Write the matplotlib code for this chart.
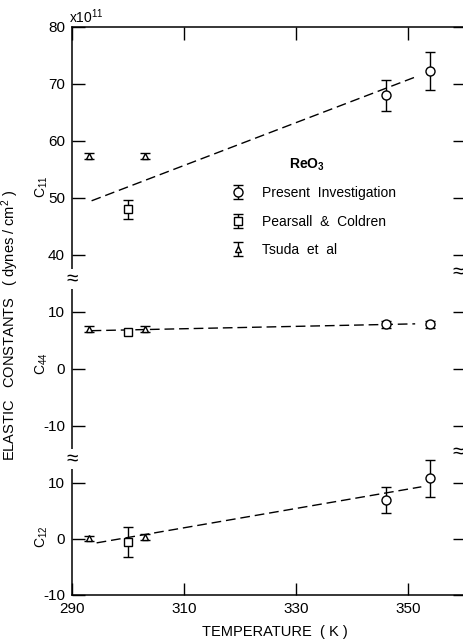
import matplotlib
matplotlib.use("Agg")
import matplotlib.pyplot as plt
import numpy as np

plt.rcParams['font.family'] = ['Liberation Sans', 'DejaVu Sans']
plt.rcParams['mathtext.default'] = 'regular'
plt.rcParams['axes.unicode_minus'] = False

# temperatures (K)
t_present = [346, 354]
t_pearsall = [300]
t_tsuda = [293, 303]

# C11 (x10^11 dynes/cm^2)
c11_present = [68.0, 72.3]
c11_present_err = [2.7, 3.4]
c11_pearsall = [48.0]
c11_pearsall_err = [1.7]
c11_tsuda = [57.4, 57.3]
c11_tsuda_err = [0.5, 0.5]
c11_fit_t = [293.5, 351.8]
c11_fit = [49.5, 71.4]

# C44
c44_present = [7.8, 7.8]
c44_present_err = [0.6, 0.6]
c44_pearsall = [6.4]
c44_tsuda = [7.0, 7.0]
c44_tsuda_err = [0.5, 0.5]
c44_fit_t = [293.5, 351.3]
c44_fit = [6.7, 7.9]

# C12
c12_present = [7.0, 10.8]
c12_present_err = [2.3, 3.3]
c12_pearsall = [-0.5]
c12_pearsall_err = [2.7]
c12_tsuda = [0.1, 0.4]
c12_tsuda_err = [0.5, 0.5]
c12_fit_t = [294.4, 352.4]
c12_fit = [-0.7, 9.3]

W, H = 463, 641
fig = plt.figure(figsize=(W / 100, H / 100), dpi=100)

def px_axes(top, bottom):
    return [72 / W, 1 - bottom / H, (465 - 72) / W, (bottom - top) / H]

ax1 = fig.add_axes(px_axes(27, 276))
ax2 = fig.add_axes(px_axes(276, 456))
ax3 = fig.add_axes(px_axes(456, 595))
axes = [ax1, ax2, ax3]

ax1.set_ylim(36.3, 80)
ax2.set_ylim(-15.3, 16.3)
ax3.set_ylim(-10, 14.8)
ax1.set_yticks([40, 50, 60, 70, 80])
ax2.set_yticks([-10, 0, 10])
ax3.set_yticks([-10, 0, 10])

for ax in axes:
    ax.set_xlim(290, 360.2)
    ax.set_xticks([290, 310, 330, 350])
    ax.tick_params(direction='in', length=9, width=1, left=True, right=True,
                   top=False, bottom=False, labelbottom=False, labelsize=11,
                   pad=5)
    for s in ax.spines.values():
        s.set_linewidth(1.1)
    ax.spines['top'].set_visible(False)
    ax.spines['bottom'].set_visible(False)

ax1.spines['top'].set_visible(True)
ax1.tick_params(top=True)
ax3.spines['bottom'].set_visible(True)
ax3.tick_params(bottom=True, labelbottom=True)

eb = dict(capsize=3.5, elinewidth=1, capthick=1, color='black', mfc='white',
          mec='black', mew=1, linestyle='none')
dash = dict(color='black', lw=1, linestyle=(0, (7, 3.5)))

data = [
    (ax1, c11_present, c11_present_err, c11_pearsall, c11_pearsall_err,
     c11_tsuda, c11_tsuda_err, c11_fit_t, c11_fit),
    (ax2, c44_present, c44_present_err, c44_pearsall, None,
     c44_tsuda, c44_tsuda_err, c44_fit_t, c44_fit),
    (ax3, c12_present, c12_present_err, c12_pearsall, c12_pearsall_err,
     c12_tsuda, c12_tsuda_err, c12_fit_t, c12_fit),
]
handles = []
for ax, pv, pe, qv, qe, tv, te, ft, fv in data:
    ax.plot(ft, fv, **dash)
    h1 = ax.errorbar(t_present, pv, yerr=pe, marker='o', ms=6.5, **eb)
    h2 = ax.errorbar(t_pearsall, qv, yerr=qe, marker='s', ms=6, **eb)
    h3 = ax.errorbar(t_tsuda, tv, yerr=te, marker='^', ms=5, **eb)
    if ax is ax1:
        handles = [h1, h2, h3]

leg = ax1.legend(handles, ['Present  Investigation', 'Pearsall  &  Coldren',
                           'Tsuda  et  al'],
                 loc='upper left', bbox_to_anchor=(232 / W, 1 - 186 / H),
                 bbox_transform=fig.transFigure, frameon=False, fontsize=10,
                 handlelength=0.9, handletextpad=1.25, labelspacing=1.05,
                 borderpad=0, borderaxespad=0)
fig.text(307 / W, 1 - 165 / H, 'ReO$_3$', ha='center', va='center',
         fontsize=10, fontweight='bold')

# panel labels
fig.text(42 / W, 1 - 187 / H, 'C$_{11}$', rotation=90, ha='center',
         va='center', fontsize=10)
fig.text(42 / W, 1 - 364 / H, 'C$_{44}$', rotation=90, ha='center',
         va='center', fontsize=10)
fig.text(42 / W, 1 - 537 / H, 'C$_{12}$', rotation=90, ha='center',
         va='center', fontsize=10)

fig.text(10 / W, 1 - 325 / H, 'ELASTIC   CONSTANTS   ( dynes / cm$^2$ )',
         rotation=90, ha='center', va='center', fontsize=10.5)
fig.text(275 / W, 1 - 632 / H, 'TEMPERATURE  ( K )', ha='center',
         va='center', fontsize=10.5)
fig.text(86 / W, 1 - 17 / H, 'x10$^{11}$', ha='center', va='center',
         fontsize=10)

# axis break marks
for bx, by in [(72, 279), (72, 459), (458, 272), (458, 452)]:
    fig.text(bx / W, 1 - by / H, '\u2248', ha='center', va='center',
             fontsize=15, rotation=0,
             bbox=dict(facecolor='white', edgecolor='none', pad=0.2))

fig.savefig('out.png', dpi=100)
